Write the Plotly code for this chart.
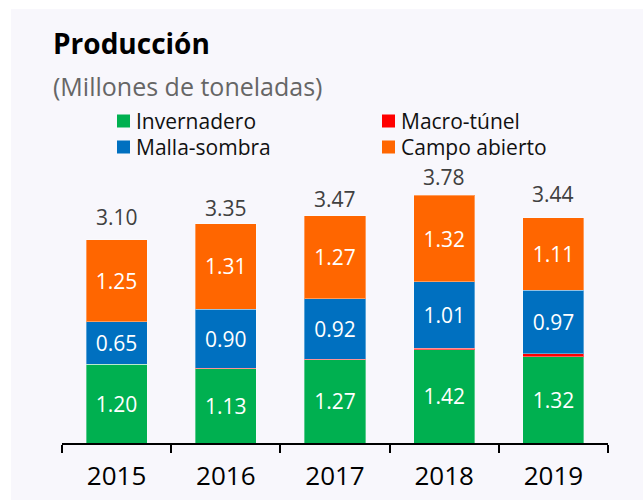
import plotly.graph_objects as go

years = ["2015", "2016", "2017", "2018", "2019"]
invernadero = [1.20, 1.13, 1.27, 1.42, 1.32]
macro_tunel = [0.00, 0.01, 0.01, 0.03, 0.04]
malla_sombra = [0.65, 0.90, 0.92, 1.01, 0.97]
campo_abierto = [1.25, 1.31, 1.27, 1.32, 1.11]
totales = [3.10, 3.35, 3.47, 3.78, 3.44]

series_names = ["Invernadero", "Macro-túnel", "Malla-sombra", "Campo abierto"]
colors = ["#00b050", "#ff0000", "#0070c0", "#ff6600"]
# pixel gap between bar top and total label centre (style)
total_label_gaps = [22, 15, 16, 17, 23]

W, H = 643, 500
ML, MR, MT, MB = 62, 35, 150, 57
PW = W - ML - MR
PH = H - MT - MB
FONT = "Open Sans"


def px_x(px):
    return (px - ML) / PW


def px_y(py):
    return (H - MB - py) / PH


fig = go.Figure()
for name, vals, col in zip(series_names,
                           [invernadero, macro_tunel, malla_sombra, campo_abierto],
                           colors):
    show_text = name != "Macro-túnel"
    fig.add_trace(go.Bar(
        x=years, y=vals, name=name,
        marker=dict(color=col, line=dict(color="rgba(255,255,255,0.35)", width=1)),
        text=[f"{v:.2f}" for v in vals] if show_text else None,
        textposition="inside" if show_text else "none",
        insidetextanchor="middle",
        textangle=0,
        constraintext="none",
        textfont=dict(family=FONT, size=21, color="white"),
        showlegend=False,
    ))

# totals above bars (category index positions)
for i, (tot, gap) in enumerate(zip(totales, total_label_gaps)):
    fig.add_annotation(x=i, y=tot, xref="x", yref="y", text=f"{tot:.2f}", showarrow=False,
                       yanchor="middle", yshift=gap + 1,
                       font=dict(family=FONT, size=21, color="#404040"))

shapes = []
# background panel
shapes.append(dict(type="rect", xref="paper", yref="paper",
                   x0=px_x(11), x1=px_x(W + 5), y0=px_y(9), y1=px_y(H + 5),
                   fillcolor="#f8f7fc", line=dict(width=0), layer="below"))

# manual legend
legend_pos = [(117, 121), (382, 121), (117, 147), (382, 147)]
for name, col, (sx, sy) in zip(series_names, colors, legend_pos):
    shapes.append(dict(type="rect", xref="paper", yref="paper",
                       x0=px_x(sx), x1=px_x(sx + 13), y0=px_y(sy + 6.5), y1=px_y(sy - 6.5),
                       fillcolor=col, line=dict(width=0)))
    fig.add_annotation(xref="paper", yref="paper", x=px_x(sx + 17), y=px_y(sy),
                       text=name, showarrow=False, xanchor="left", yanchor="middle",
                       font=dict(family=FONT, size=21, color="#111111"))

# title and subtitle
fig.add_annotation(xref="paper", yref="paper", x=px_x(51), y=px_y(43),
                   text="<b>Producción</b>", showarrow=False, xanchor="left", yanchor="middle",
                   font=dict(family=FONT, size=28, color="#000000"))
fig.add_annotation(xref="paper", yref="paper", x=px_x(51), y=px_y(86),
                   text="(Millones de toneladas)", showarrow=False, xanchor="left", yanchor="middle",
                   font=dict(family=FONT, size=25, color="#666666"))

fig.update_layout(
    width=W, height=H,
    margin=dict(l=ML, r=MR, t=MT, b=MB),
    barmode="stack", bargap=0.44,
    paper_bgcolor="white", plot_bgcolor="rgba(0,0,0,0)",
    shapes=shapes,
    font=dict(family=FONT),
    xaxis=dict(type="category", automargin=False, range=[-0.5, len(years) - 0.5],
               showline=True, linecolor="black", linewidth=2,
               ticks="outside", tickson="boundaries", ticklen=8, tickwidth=2,
               tickcolor="black", showgrid=False, tickangle=0, ticklabelstandoff=9,
               tickfont=dict(family=FONT, size=26, color="black")),
    yaxis=dict(range=[0, PH / 65.5], visible=False, showgrid=False, zeroline=False,
               automargin=False),
)

fig.write_html("out.html", config={"displayModeBar": False},
               post_script="document.body.style.margin='0';document.body.style.overflow='hidden';")
